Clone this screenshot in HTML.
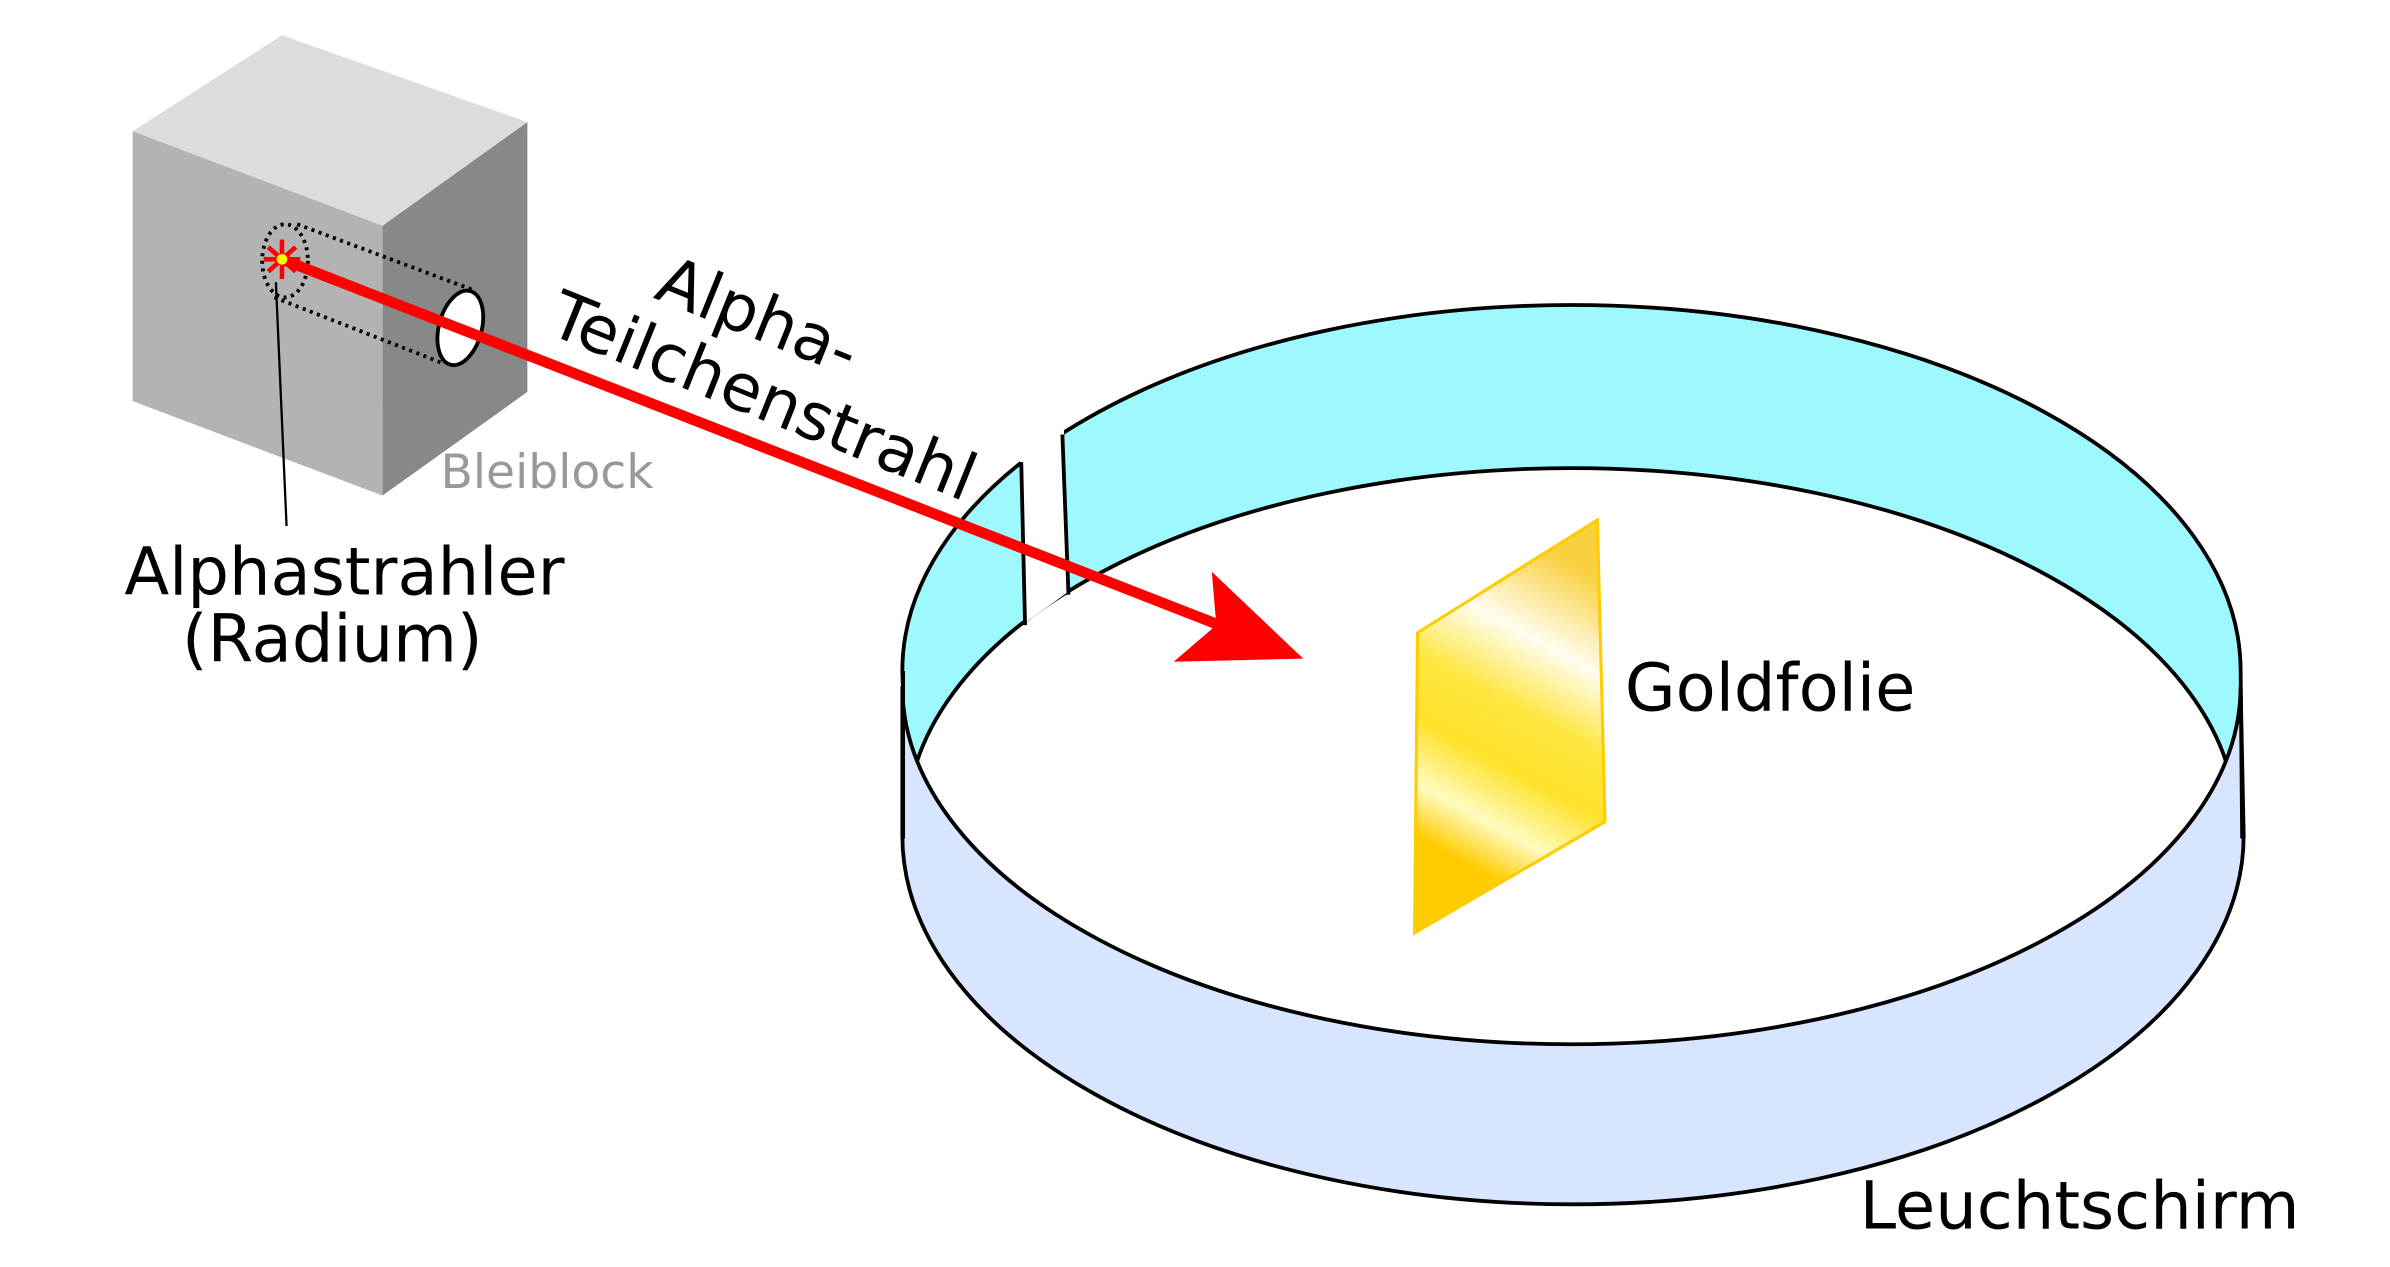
<!DOCTYPE html>
<html><head><meta charset="utf-8"><style>html,body{margin:0;padding:0;background:#fff}svg{display:block}</style></head>
<body>
<svg width="2390" height="1267" viewBox="0 0 1568 831" xmlns="http://www.w3.org/2000/svg" font-family="DejaVu Sans, Liberation Sans, sans-serif">
<defs>
<linearGradient id="g" x1="930" y1="600" x2="1050" y2="380" gradientUnits="userSpaceOnUse">
<stop offset="0" stop-color="#ffcc00"/>
<stop offset="0.18" stop-color="#ffcc00"/>
<stop offset="0.3" stop-color="#fffbc0"/>
<stop offset="0.45" stop-color="#ffe22a"/>
<stop offset="0.6" stop-color="#ffe640"/>
<stop offset="0.78" stop-color="#fffdf0"/>
<stop offset="1" stop-color="#f8d040"/>
</linearGradient>
</defs>
<!-- block -->
<polygon points="87,86 185,23 346,80 251,148" fill="#dcdcdc"/>
<polygon points="87,86 251,148 251,325 87,263" fill="#b3b3b3"/>
<polygon points="251,148 346,80 346,257 251,325" fill="#888"/>
<ellipse cx="187" cy="171" rx="15" ry="24" fill="none" stroke="#000" stroke-width="2.5" stroke-dasharray="2,3"/>
<line x1="195" y1="147" x2="310" y2="190" stroke="#000" stroke-width="2.5" stroke-dasharray="2,3"/>
<line x1="180" y1="195" x2="290" y2="238" stroke="#000" stroke-width="2.5" stroke-dasharray="2,3"/>
<ellipse cx="302" cy="215" rx="14" ry="25" transform="rotate(15 302 215)" fill="#fff" stroke="#000" stroke-width="2.5"/>
<line x1="181" y1="185" x2="188" y2="345" stroke="#000" stroke-width="1.5"/>
<text x="289" y="320" font-size="31" fill="#999">Bleiblock</text>
<text x="226" y="390" font-size="43" text-anchor="middle">Alphastrahler</text>
<text x="218" y="434" font-size="43" text-anchor="middle">(Radium)</text>
<text font-size="43" transform="translate(428,195) rotate(22)">Alpha-</text>
<text font-size="43" transform="translate(358,218) rotate(22)">Teilchenstrahl</text>
<!-- cylinder -->
<ellipse cx="1031" cy="440" rx="439" ry="240" fill="#9ef9fe" stroke="#000" stroke-width="2.5"/>
<polygon points="593,440 593,470 603,500 622,440" fill="#9ef9fe"/>
<polygon points="1469,440 1469,470 1459,500 1440,440" fill="#9ef9fe"/>
<ellipse cx="1031" cy="540" rx="436" ry="233" fill="#fff" stroke="#000" stroke-width="2.5"/>
<polygon points="669,300 698,282 701,388 672,409" fill="#fff"/>
<path d="M670,303 L672.5,410 M697,285 L701,390" stroke="#000" stroke-width="2.5" fill="none"/>
<path d="M592,450 A439,235 0 0 0 1470,450 L1472,548 A440,242 0 0 1 592,548 Z" fill="#d7e5ff" stroke="#000" stroke-width="2.5"/>
<line x1="592.5" y1="440" x2="592.5" y2="550" stroke="#000" stroke-width="2.5"/>
<line x1="1470" y1="440" x2="1471" y2="550" stroke="#000" stroke-width="2.5"/>
<!-- foil -->
<polygon points="930,415 1048,341 1053,539 928,612" fill="url(#g)" stroke="#ffcc00" stroke-width="2"/>
<text x="1066" y="466" font-size="43">Goldfolie</text>
<text x="1220" y="806" font-size="43">Leuchtschirm</text>
<!-- beam -->
<line x1="185" y1="170" x2="800" y2="410" stroke="#f00" stroke-width="7"/>
<polygon points="795,375 855,432 770,434 798,410" fill="#f00"/>
<g stroke="#f00" stroke-width="3">
<line x1="176" y1="162" x2="194" y2="178"/><line x1="176" y1="178" x2="194" y2="162"/>
<line x1="185" y1="157" x2="185" y2="183"/><line x1="173" y1="170" x2="197" y2="170"/>
</g>
<circle cx="185" cy="170" r="3.5" fill="#ff0"/>
</svg>
</body></html>
